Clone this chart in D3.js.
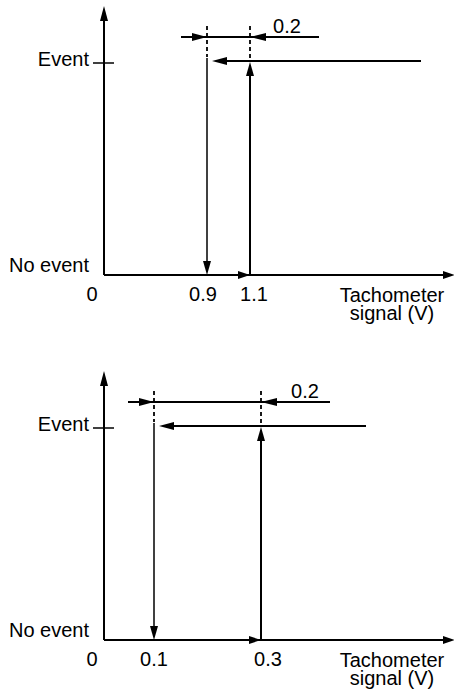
<!DOCTYPE html>
<html>
<head>
<meta charset="utf-8">
<script src="https://cdn.jsdelivr.net/npm/d3@7"></script>
<style>
  html, body { margin: 0; padding: 0; background: #fff; }
  svg { display: block; }
  text { font-family: "Liberation Sans", Arial, sans-serif; font-size: 20px; fill: #000; }
</style>
</head>
<body>
<script>
// ---- Data ----
const lowThresholds  = [0.9, 0.1];   // event cleared (falling) threshold, V
const highThresholds = [1.1, 0.3];   // event set (rising) threshold, V
const hysteresis     = [0.2, 0.2];   // dimension label values
const tickLabels     = [["0", "0.9", "1.1"], ["0", "0.1", "0.3"]];
const stateLabels    = ["No event", "Event"];
const xTitleLines    = ["Tachometer", "signal (V)"];

// ---- Layout ----
const W = 454, H = 692;
const panelTop = [0, 365];
const axisX0 = 104, axisXEnd = 455;
const labelDx = [[-12, -4, 4], [-12, 0, 7]];
const eventLineRight = [421, 366];     // right end of the falling horizontal line
const dimLabelX = [287, 305];

const svg = d3.select("body").append("svg").attr("width", W).attr("height", H);

function arrowHead(g, tx, ty, dir, len = 14, hw = 4) {
  let pts;
  if (dir === "up")    pts = [[tx, ty], [tx - hw, ty + len], [tx + hw, ty + len]];
  if (dir === "down")  pts = [[tx, ty], [tx - hw, ty - len], [tx + hw, ty - len]];
  if (dir === "left")  pts = [[tx, ty], [tx + len, ty - hw], [tx + len, ty + hw]];
  if (dir === "right") pts = [[tx, ty], [tx - len, ty - hw], [tx - len, ty + hw]];
  g.append("path").attr("d", d3.line()(pts) + "Z").attr("fill", "#000").attr("stroke", "none");
}
function line(g, x1, y1, x2, y2, w = 2, dash = null) {
  const l = g.append("line").attr("x1", x1).attr("y1", y1).attr("x2", x2).attr("y2", y2)
    .attr("stroke", "#000").attr("stroke-width", w);
  if (dash) l.attr("stroke-dasharray", dash);
  return l;
}

lowThresholds.forEach((lo, i) => {
  const hi = highThresholds[i];
  const g = svg.append("g").attr("transform", `translate(0,${panelTop[i]})`);

  // schematic (non-uniform) x-scale through the labelled points
  const x = d3.scaleLinear().domain([0, lo, hi]).range([axisX0, i === 0 ? 207 : 154, i === 0 ? 250 : 261]);
  const y = d3.scalePoint().domain(stateLabels).range([275, 62]);
  const yDim = 37, yTop = 6;

  // axes
  line(g, axisX0, y("No event"), axisX0, yTop + 10, 2);
  arrowHead(g, axisX0, yTop, "up", 15, 4);
  line(g, axisX0, y("No event"), axisXEnd - 10, y("No event"), 2);
  arrowHead(g, axisXEnd, y("No event"), "right", 12, 4);

  // Event tick
  line(g, axisX0 - 11, y("Event") + 1, axisX0 + 10, y("Event") + 1, 1.5);

  // state labels
  g.append("text").attr("x", 89).attr("y", y("Event") + 4).attr("text-anchor", "end").text("Event");
  g.append("text").attr("x", 89).attr("y", y("No event") - 3).attr("text-anchor", "end").text("No event");

  // tick labels
  [0, lo, hi].forEach((v, k) => {
    g.append("text").attr("x", x(v) + labelDx[i][k]).attr("y", y("No event") + 26)
      .attr("text-anchor", "middle").text(tickLabels[i][k]);
  });

  // x title
  xTitleLines.forEach((t, k) => {
    g.append("text").attr("x", 392).attr("y", y("No event") + 27 + k * 18)
      .attr("text-anchor", "middle").text(t);
  });

  // rising path
  arrowHead(g, x(hi), y("No event"), "right", 12, 4);
  line(g, x(hi), y("No event"), x(hi), y("Event") + 12, 2);
  arrowHead(g, x(hi), y("Event"), "up", 14, 4);

  // falling path
  line(g, eventLineRight[i], y("Event") - 1, x(lo) + 12, y("Event") - 1, 2);
  arrowHead(g, x(lo) + 5, y("Event") - 1, "left", 15, 4);
  line(g, x(lo), y("Event") - 4, x(lo), y("No event") - 12, 1.5);
  arrowHead(g, x(lo), y("No event"), "down", 14, 4);

  // dashed extension lines
  line(g, x(lo), yDim - 11, x(lo), y("Event") - 5, 1.8, "4,3");
  line(g, x(hi), yDim - 11, x(hi), y("Event"), 1.8, "4,3");

  // dimension line
  line(g, x(lo) - 26, yDim, x(hi) + 69, yDim, 2);
  arrowHead(g, x(lo), yDim, "right", 15, 4);
  arrowHead(g, x(hi), yDim, "left", 16, 4);
  g.append("text").attr("x", dimLabelX[i]).attr("y", yDim - 4).attr("text-anchor", "middle")
    .text(d3.format(".1f")(hysteresis[i]));
});
</script>
</body>
</html>
